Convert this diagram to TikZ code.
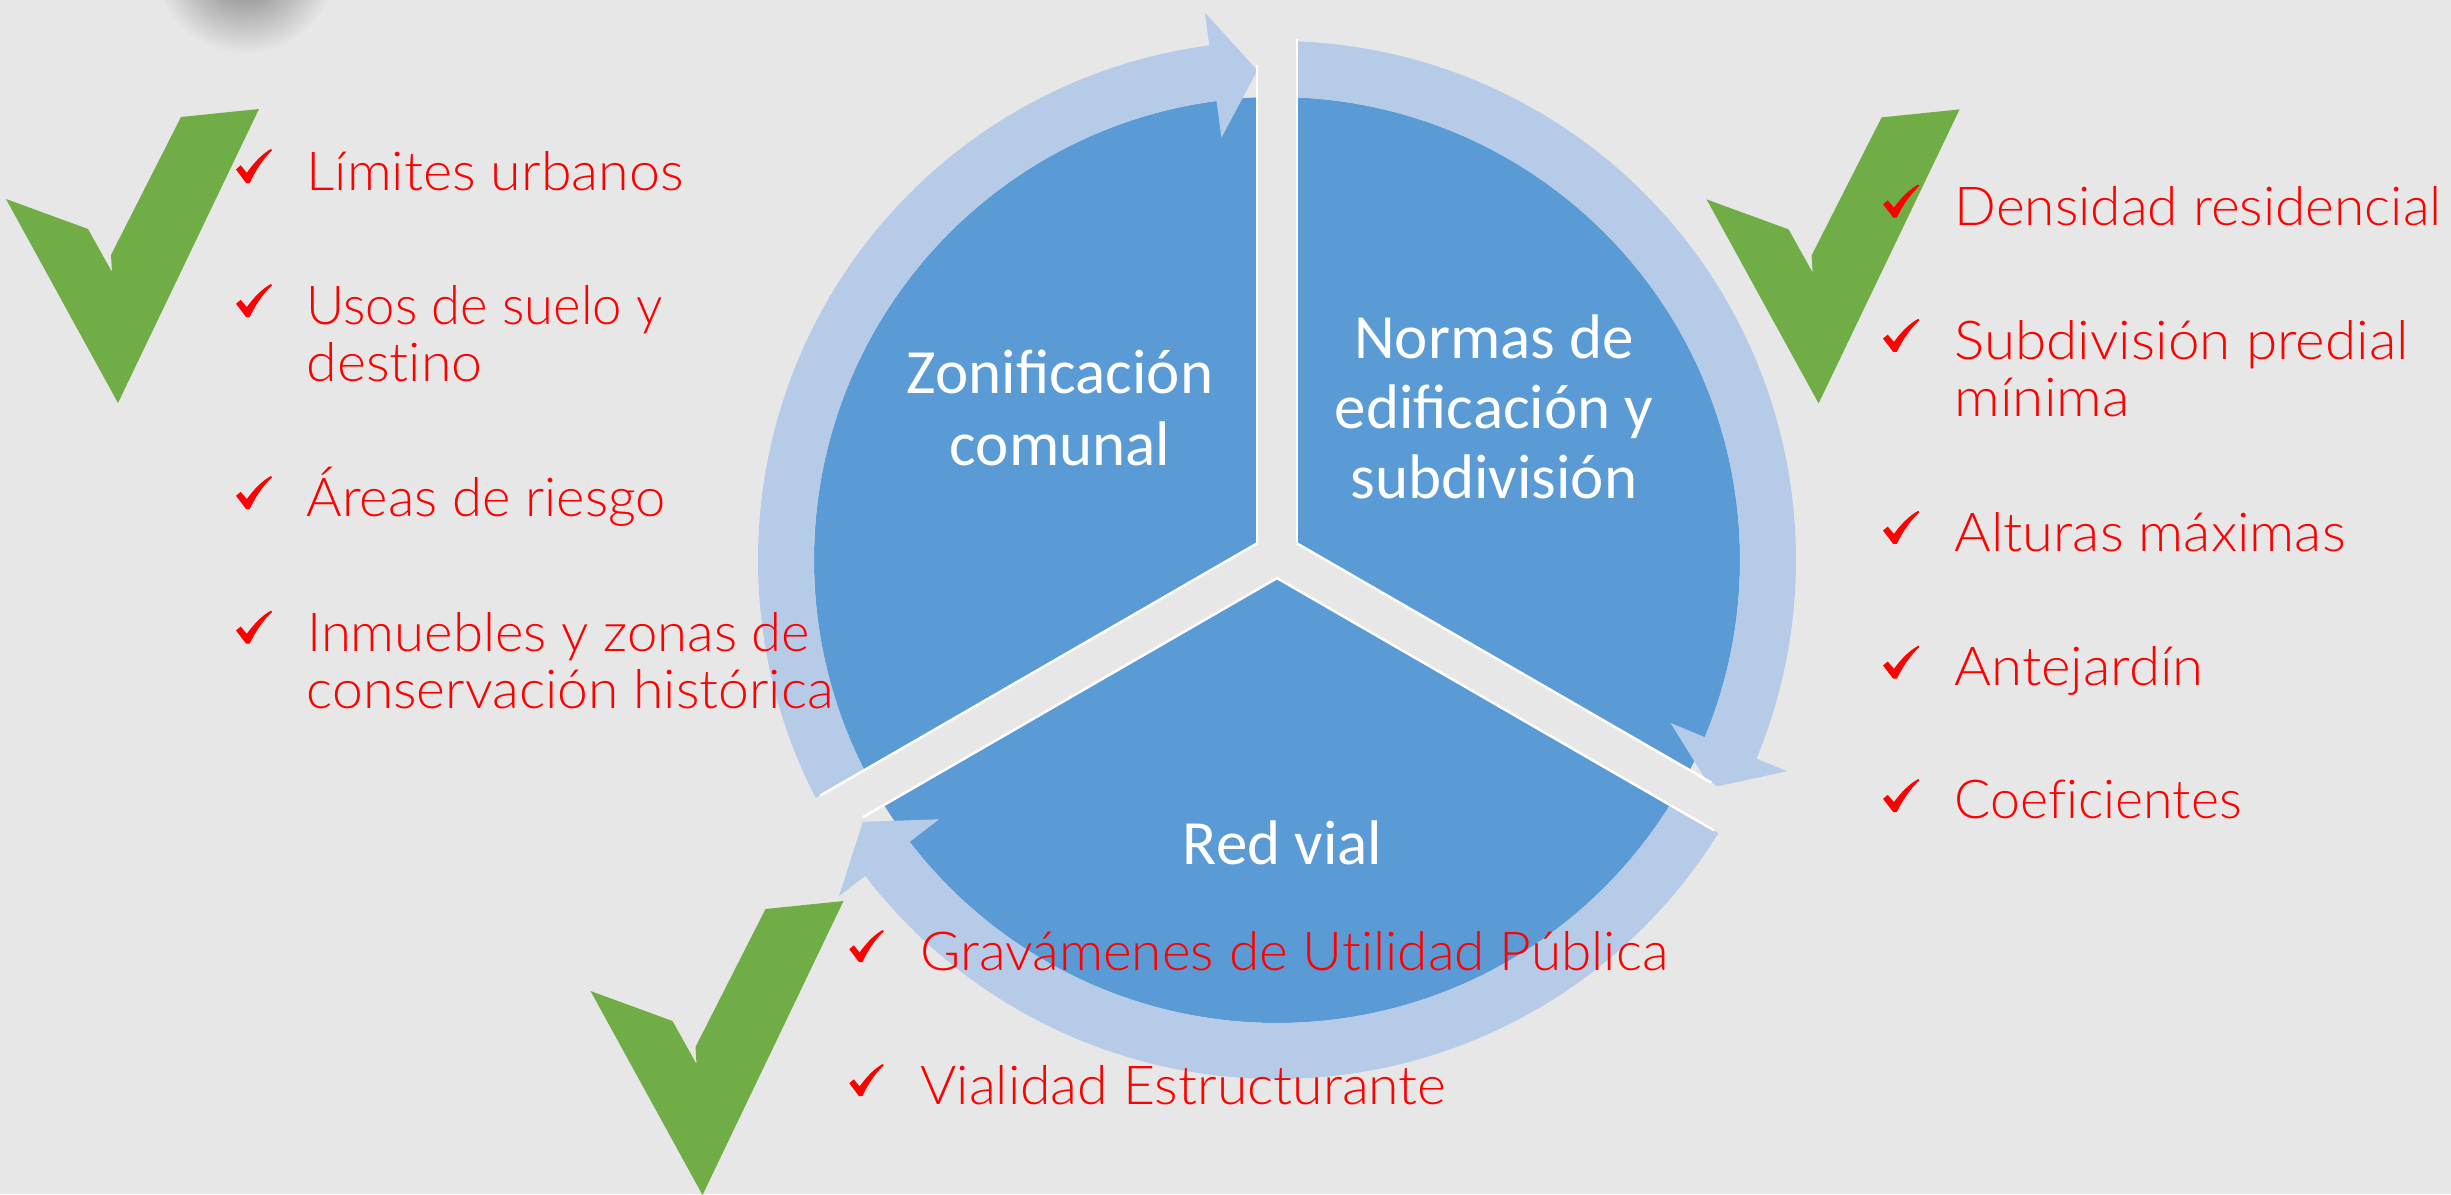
\documentclass[tikz,border=0pt]{standalone}
\usepackage{fontspec}
\usepackage{graphicx}
\newfontfamily\calib{Carlito}
\IfFontExistsTF{Lato Light}{\newfontfamily\latof{Lato Light}[Ligatures=NoCommon]}{\newfontfamily\latof{Lato}[Ligatures=NoCommon]}
\definecolor{bgc}{HTML}{E7E7E7}
\definecolor{ringc}{HTML}{B6CBE8}
\definecolor{diskc}{HTML}{5B9BD5}
\definecolor{chkgreen}{HTML}{70AD47}
\definecolor{tickred}{HTML}{FF0000}
\newdimen\pxu \pxu=0.3pt
\newcommand\rtext[2]{\resizebox{#1\pxu}{\height}{\latof\fontsize{16.1}{19}\selectfont #2}}
\pgfdeclareradialshading{blob}{\pgfpoint{0bp}{0bp}}{rgb(0bp)=(0.58,0.58,0.58); rgb(9bp)=(0.61,0.61,0.61); rgb(25bp)=(0.906,0.906,0.906); rgb(50bp)=(0.906,0.906,0.906)}
\tikzset{
  rtick/.pic={\fill[tickred] (0,-0.60) -- (0.13,-0.48) -- (0.30,-0.70) .. controls (0.5,-0.4) and (0.72,-0.15) .. (0.97,0) -- (1,-0.04) .. controls (0.75,-0.3) and (0.55,-0.62) .. (0.38,-1) -- (0.28,-1) -- cycle;},
  gcheck/.pic={\fill[chkgreen] (-112,204) -- (-30,174) -- (-6,131) -- (-7,148) -- (63,286) -- (141,294) -- (0,0) -- cycle;},
  redtxt/.style={anchor=base west, inner sep=0pt, text=tickred},
  secttxt/.style={anchor=base, inner sep=0pt, text=white, font=\calib\fontsize{18.9}{22}\selectfont},
  ringarrow/.style={fill=ringc},
  gapline/.style={draw=bgc, line width=12pt, line cap=round},
  edgeline/.style={draw=white, line width=0.75pt}
}
\begin{document}
\begin{tikzpicture}[x=0.3pt,y=0.3pt]
\useasboundingbox (0,0) rectangle (2451,1194);
\fill[bgc] (0,0) rectangle (2451,1194);
\begin{scope}
  \clip (0,0) rectangle (2451,1194);
  \shade[shading=blob] (245,1232) circle (92);
\end{scope}

% big green checks
\path (118,791) pic{gcheck};
\path (1818.6,790.6) pic{gcheck};
\path (702.5,-1) pic{gcheck};

% cycle
\coordinate (D) at (1277,634);
\coordinate (C) at (1277,639);
\fill[diskc] (D) circle (463);
\begin{scope}[shift={(1277,634)}]
  \fill[ringarrow] (210:519) arc[start angle=210, end angle=97.5, radius=519] -- (97.5:552) -- (92.3:490) -- (97.5:426) -- (97.5:463) arc[start angle=97.5, end angle=210, radius=463] -- cycle;
  \fill[ringarrow] (90:519) arc[start angle=90, end angle=-22.5, radius=519] -- (-22.5:552) -- (-27.7:490) -- (-22.5:426) -- (-22.5:463) arc[start angle=-22.5, end angle=90, radius=463] -- cycle;
  \fill[ringarrow] (-30:519) arc[start angle=-30, end angle=-142.5, radius=519] -- (-142.5:552) -- (-147.7:490) -- (-142.5:426) -- (-142.5:463) arc[start angle=-142.5, end angle=-30, radius=463] -- cycle;
\end{scope}
\begin{scope}[shift={(1277,639)}]
  \draw[gapline] (0,0) -- (90:580);
  \draw[gapline] (0,0) -- (-30:580);
  \draw[gapline] (0,0) -- (210:580);
  % white sector edges
  \draw[edgeline] (-20,11.55) -- (-20,490);
  \draw[edgeline] (20,11.55) -- (20,516);
  \draw[edgeline] (20,11.55) -- (434.4,-227.7);
  \draw[edgeline] (0,-23.09) -- (436.9,-275.3);
  \draw[edgeline] (0,-23.09) -- (-414.4,-262.3);
  \draw[edgeline] (-20,11.55) -- (-456.9,-240.7);
\end{scope}

% sector labels
\node[secttxt] (z1) at (1060,800.6) {Zonificación};
\node[secttxt] (z2) at (1060,729) {comunal};
\node[secttxt] (n1) at (1494,835.4) {Normas de};
\node[secttxt] (n2) at (1494,765.4) {edificación y};
\node[secttxt] (n3) at (1494,695.3) {subdivisión};
\node[secttxt] (r1) at (1282.6,329.8) {Red vial};

% left list
\path (236,1045) pic[xscale=36,yscale=34]{rtick};
\path (236,910) pic[xscale=36,yscale=33]{rtick};
\path (236,718) pic[xscale=36,yscale=33]{rtick};
\path (236,583.3) pic[xscale=36,yscale=33]{rtick};
\node[redtxt] (l1) at (306,1003.3) {\rtext{377}{Límites urbanos}};
\node[redtxt] (l2a) at (306,870) {\rtext{356}{Usos de suelo y}};
\node[redtxt] (l2b) at (306,812.3) {\rtext{176}{destino}};
\node[redtxt] (l3) at (306,677.3) {\rtext{359}{Áreas de riesgo}};
\node[redtxt] (l4a) at (306.5,543) {\rtext{503}{Inmuebles y zonas de}};
\node[redtxt] (l4b) at (306,485.7) {\rtext{527}{conservación histórica}};

% right list
\path (1883,1009.5) pic[xscale=36.4,yscale=33]{rtick};
\path (1883,875.2) pic[xscale=36.4,yscale=33]{rtick};
\path (1883,683.2) pic[xscale=36.4,yscale=33]{rtick};
\path (1883,548.3) pic[xscale=36.4,yscale=33]{rtick};
\path (1883,415) pic[xscale=36.4,yscale=33]{rtick};
\node[redtxt] (d1) at (1954,968.7) {\rtext{487}{Densidad residencial}};
\node[redtxt] (d2a) at (1954,834.4) {\rtext{454}{Subdivisión predial}};
\node[redtxt] (d2b) at (1954,777.2) {\rtext{175}{mínima}};
\node[redtxt] (d3) at (1954,643) {\rtext{391}{Alturas máximas}};
\node[redtxt] (d4) at (1954,508.5) {\rtext{249}{Antejardín}};
\node[redtxt] (d5) at (1954,375.2) {\rtext{287}{Coeficientes}};

% bottom list
\path (849.3,264) pic[xscale=34.4,yscale=32]{rtick};
\path (849.3,130) pic[xscale=34.4,yscale=32]{rtick};
\node[redtxt] (b1) at (919.7,224) {\rtext{748}{Gravámenes de Utilidad Pública}};
\node[redtxt] (b2) at (919.7,89.7) {\rtext{526}{Vialidad Estructurante}};
\end{tikzpicture}
\end{document}
